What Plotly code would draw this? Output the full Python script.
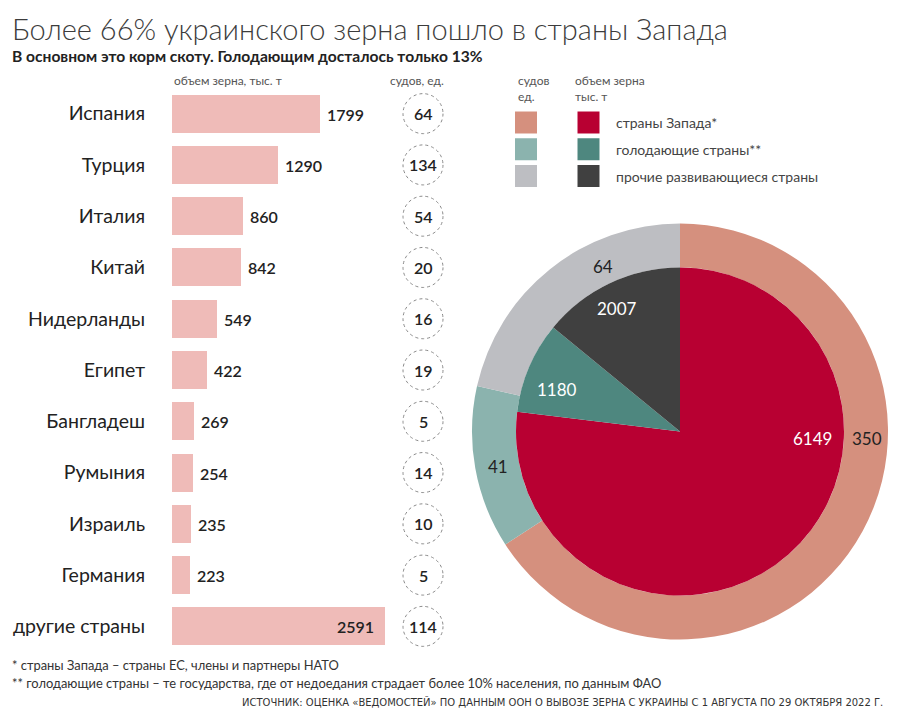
import numpy as np
import plotly.graph_objects as go

# data
countries = ["Испания", "Турция", "Италия", "Китай", "Нидерланды", "Египет",
             "Бангладеш", "Румыния", "Израиль", "Германия", "другие страны"]
grain_kt = [1799, 1290, 860, 842, 549, 422, 269, 254, 235, 223, 2591]
ships = [64, 134, 54, 20, 16, 19, 5, 14, 10, 5, 114]

groups = ["страны Запада*", "голодающие страны**", "прочие развивающиеся страны"]
group_grain = [6149, 1180, 2007]
group_ships = [350, 41, 64]

ship_colors = ["#D5907E", "#8BB3AE", "#BDBEC2"]
grain_colors = ["#B80032", "#4E877F", "#404040"]

# the page body adds an 8px margin, so the figure is a bit smaller and
# all page positions below are shifted by it
OFF = 8
W, H = 916 - OFF, 726 - OFF
FONT = "Lato"
DARK = "#222222"

def px(x):
    return (x - OFF) / W

def py(y):
    return 1 - (y - OFF) / H

idx = list(range(len(countries)))

fig = go.Figure()

# bars: volume of grain
bar_text = [f" {v}" for v in grain_kt]
bar_text[-1] = f"{grain_kt[-1]}  "
bar_pos = ["outside"] * (len(grain_kt) - 1) + ["inside"]
fig.add_trace(go.Bar(
    x=grain_kt, y=idx, orientation="h", width=0.74,
    marker=dict(color="#EFBBB8", line=dict(width=0)),
    text=bar_text, textposition=bar_pos, insidetextanchor="end",
    constraintext="none", cliponaxis=False,
    textfont=dict(family=FONT, size=16, color=DARK, weight=600),
    hoverinfo="skip",
))

# ships in dotted circles
for i, n in zip(idx, ships):
    fig.add_shape(type="circle", xref="paper", yref="y",
                  xsizemode="pixel", ysizemode="pixel",
                  xanchor=px(423), yanchor=i, x0=-20, x1=20, y0=-20, y1=20,
                  line=dict(color="#8a8a8a", width=1, dash="dot"))
    fig.add_annotation(x=px(423), y=i, xref="paper", yref="y", text=str(n),
                       showarrow=False, xanchor="center", yanchor="middle",
                       font=dict(family=FONT, size=16, color=DARK, weight=600))

# two-level pie: inner slice sizes follow ship counts, outer ring grain shares
# (that is how the original graphic is drawn), labels are swapped accordingly
cx, cy, r_out, r_in = 680, 431.5, 208, 164
fig.add_trace(go.Pie(
    values=group_grain, labels=groups, sort=False, direction="clockwise", rotation=0,
    hole=r_in / r_out, marker=dict(colors=ship_colors, line=dict(width=0)),
    textinfo="none", hoverinfo="skip", showlegend=False,
    domain=dict(x=[px(cx - r_out), px(cx + r_out)], y=[py(cy + r_out), py(cy - r_out)]),
))
fig.add_trace(go.Pie(
    values=group_ships, labels=groups, sort=False, direction="clockwise", rotation=0,
    marker=dict(colors=grain_colors, line=dict(width=0)),
    textinfo="none", hoverinfo="skip", showlegend=False,
    domain=dict(x=[px(cx - r_in), px(cx + r_in)], y=[py(cy + r_in), py(cy - r_in)]),
))

# pie labels: (angle clockwise from 12 o'clock, radius in px)
outer_place = [(92, 187), (259, 185), (335, 182)]
inner_place = [(93, 133), (289, 130), (333, 138)]
for (ang, rad), val in zip(outer_place, group_ships):
    a = np.deg2rad(ang)
    fig.add_annotation(x=px(cx + rad * np.sin(a)), y=py(cy - rad * np.cos(a)),
                       xref="paper", yref="paper", text=str(val), showarrow=False,
                       xanchor="center", yanchor="middle",
                       font=dict(family=FONT, size=17, color=DARK))
for (ang, rad), val in zip(inner_place, group_grain):
    a = np.deg2rad(ang)
    fig.add_annotation(x=px(cx + rad * np.sin(a)), y=py(cy - rad * np.cos(a)),
                       xref="paper", yref="paper", text=str(val), showarrow=False,
                       xanchor="center", yanchor="middle",
                       font=dict(family=FONT, size=17, color="white"))

# legend swatches on a helper axis: column 0 = ships, column 1 = grain
lx, ly, lc = [], [], []
for g in range(len(groups)):
    lx += [0, 1]
    ly += [g, g]
    lc += [ship_colors[g], grain_colors[g]]
fig.add_trace(go.Scatter(
    x=lx, y=ly, xaxis="x2", yaxis="y2", mode="markers", cliponaxis=False,
    marker=dict(symbol="square", size=22, color=lc, line=dict(width=0)),
    hoverinfo="skip", showlegend=False,
))
for g, name in enumerate(groups):
    fig.add_annotation(x=1.41, y=g, xref="x2", yref="y2", text=name, showarrow=False,
                       xanchor="left", yanchor="middle",
                       font=dict(family=FONT, size=14, color="#444444"))

small = dict(family=FONT, size=12, color="#555555")
note = dict(family=FONT, size=12.9, color="#333333")
texts = [
    (10, 28, "left", "Более 66% украинского зерна пошло в страны Запада",
     dict(family=FONT, size=29, color="#3c3c3c", weight=300)),
    (10, 56, "left", "<b>В основном это корм скоту. Голодающим досталось только 13%</b>",
     dict(family=FONT, size=15.6, color=DARK)),
    (172, 80, "left", "объем зерна, тыс. т", small),
    (388, 80, "left", "судов, ед.", small),
    (516, 89, "left", "судов<br>ед.", small),
    (573, 89, "left", "объем зерна<br>тыс. т", small),
    (10, 665, "left", "* страны Запада – страны ЕС, члены и партнеры НАТО", note),
    (10, 683, "left",
     "** голодающие страны – те государства, где от недоедания страдает более 10% населения, по данным ФАО",
     note),
    (885, 702, "right",
     "ИСТОЧНИК: ОЦЕНКА «ВЕДОМОСТЕЙ» ПО ДАННЫМ ООН О ВЫВОЗЕ ЗЕРНА С УКРАИНЫ С 1 АВГУСТА ПО 29 ОКТЯБРЯ 2022 Г.",
     dict(family="DejaVu Sans Condensed, Liberation Sans Narrow, Liberation Sans", size=11.1,
          color="#333333")),
]
for x, y, anchor, t, f in texts:
    fig.add_annotation(x=px(x), y=py(y), xref="paper", yref="paper", text=t,
                       showarrow=False, xanchor=anchor, yanchor="middle", align="left",
                       font=f)

fig.update_layout(
    width=W, height=H,
    margin=dict(l=0, r=0, t=0, b=0),
    paper_bgcolor="white", plot_bgcolor="white",
    showlegend=False,
    bargap=0,
    xaxis=dict(domain=[px(172), px(470)], range=[0, 298 / (148 / 1799)],
               visible=False, fixedrange=True),
    yaxis=dict(domain=[py(652), py(88)], range=[10.5, -0.5],
               tickvals=idx, ticktext=countries, ticks="outside", ticklen=22,
               tickcolor="rgba(0,0,0,0)", showline=False, showgrid=False, zeroline=False,
               tickfont=dict(family=FONT, size=19.5, color=DARK)),
    # helper axis for the legend: col 0 at x=526px, col 1 at 588.5px
    xaxis2=dict(domain=[px(526), px(651)], range=[0, 2], visible=False, anchor="y2"),
    yaxis2=dict(domain=[py(176), py(122.5)], range=[2, 0], visible=False, anchor="x2"),
)

fig.write_html("out.html")
